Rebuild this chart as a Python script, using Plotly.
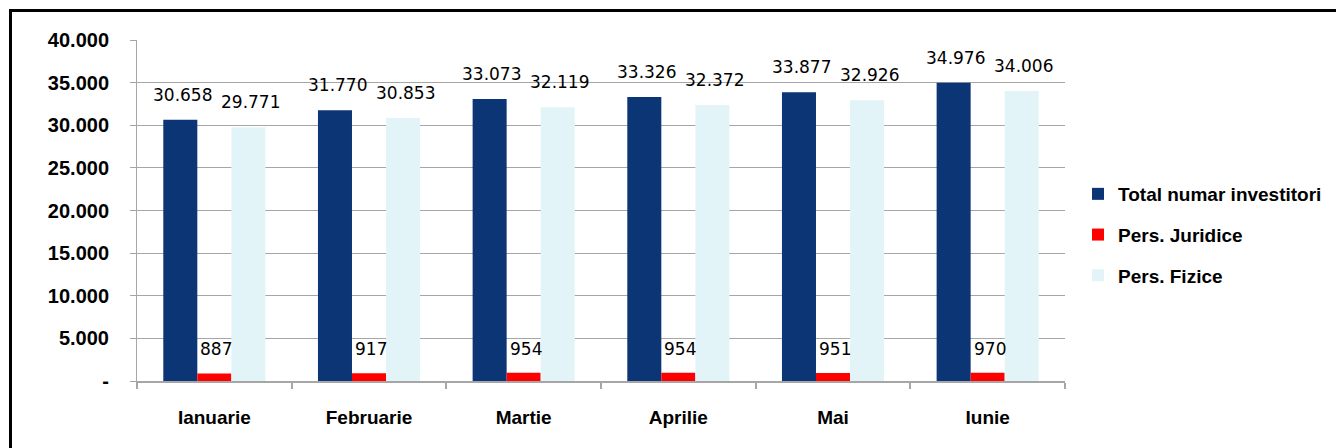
import plotly.graph_objects as go

months = ["Ianuarie", "Februarie", "Martie", "Aprilie", "Mai", "Iunie"]
total = [30658, 31770, 33073, 33326, 33877, 34976]
juridice = [887, 917, 954, 954, 951, 970]
fizice = [29771, 30853, 32119, 32372, 32926, 34006]
y_tickvals = [0, 5000, 10000, 15000, 20000, 25000, 30000, 35000, 40000]
y_ticktext = ["-", "5.000", "10.000", "15.000", "20.000", "25.000", "30.000", "35.000", "40.000"]

names = ["Total numar investitori", "Pers. Juridice", "Pers. Fizice"]
colors = ["#0B3575", "#FF0000", "#E3F4F8"]
series = [total, juridice, fizice]


def fmt(v):
    return f"{v:,}".replace(",", ".")


fig = go.Figure()
for i, (nm, col, vals) in enumerate(zip(names, colors, series)):
    fig.add_trace(go.Bar(x=months, y=vals, name=nm, marker=dict(color=col, line=dict(width=0)),
                         legendgroup=str(i)))

label_font = dict(family="DejaVu Sans", size=17, color="#000000")
ann = []
for m, v in zip(months, total):
    ann.append(dict(x=m, y=v, xref="x", yref="y", text=fmt(v), showarrow=False,
                    yanchor="bottom", yshift=13, xshift=-32, font=label_font))
for m, v in zip(months, fizice):
    ann.append(dict(x=m, y=v, xref="x", yref="y", text=fmt(v), showarrow=False,
                    yanchor="bottom", yshift=13, xshift=36, font=label_font))
for m, v in zip(months, juridice):
    ann.append(dict(x=m, y=v, xref="x", yref="y", text=fmt(v), showarrow=False,
                    yanchor="bottom", yshift=12, xshift=2, font=label_font))

# page body has an 8px margin: work in reference pixel coords minus 8
OFF = 8
W, H = 1344 - OFF, 448 - OFF
L, R, T, B = 137 - OFF, 1065 - OFF, 40 - OFF, 381 - OFF
pw, ph = R - L, B - T


def px(xp):
    return (xp - OFF - L) / pw


def py(yp):
    return (B - (yp - OFF)) / ph


shapes = [
    dict(type="line", xref="paper", yref="paper", x0=px(10.5), x1=px(1344), y0=py(10.5), y1=py(10.5),
         line=dict(color="#000000", width=3)),
    dict(type="line", xref="paper", yref="paper", x0=px(10.5), x1=px(10.5), y0=py(9), y1=py(448),
         line=dict(color="#000000", width=3)),
]

fig.update_layout(
    width=W, height=H,
    margin=dict(l=L, r=W - R, t=T, b=H - B, pad=0),
    paper_bgcolor="#FFFFFF", plot_bgcolor="#FFFFFF",
    barmode="group", bargap=0.34, bargroupgap=0,
    annotations=ann, shapes=shapes,
    showlegend=True,
    legend=dict(x=px(1078), y=py(175), xanchor="left", yanchor="top",
                font=dict(family="Liberation Sans", size=19, color="#000000", weight="bold"),
                traceorder="grouped", tracegroupgap=13, itemwidth=30,
                bgcolor="rgba(0,0,0,0)"),
    font=dict(family="Liberation Sans", color="#000000"),
)

fig.update_yaxes(range=[0, 40000], tickvals=y_tickvals, ticktext=y_ticktext,
                 showgrid=True, gridcolor="#A6A6A6", gridwidth=1,
                 showline=True, linecolor="#A6A6A6", linewidth=1,
                 ticks="outside", ticklen=6, tickcolor="#A6A6A6",
                 ticklabelstandoff=17,
                 tickfont=dict(family="Liberation Sans", size=20, color="#000000", weight="bold"),
                 zeroline=False)
fig.update_xaxes(showline=True, linecolor="#A6A6A6", linewidth=2,
                 ticks="outside", ticklen=6, tickcolor="#A6A6A6", tickwidth=2,
                 tickson="boundaries", ticklabelstandoff=18,
                 tickfont=dict(family="Liberation Sans", size=19, color="#000000", weight="bold"),
                 showgrid=False)

fig.write_html("out.html")
